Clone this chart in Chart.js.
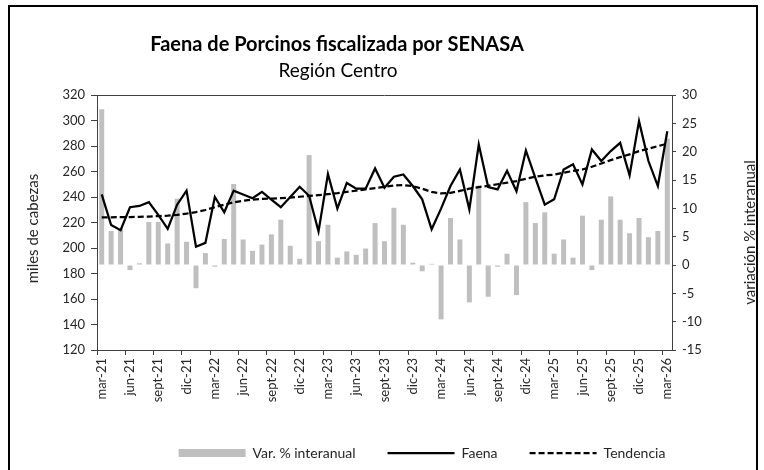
<!DOCTYPE html>
<html><head><meta charset="utf-8">
<script src="https://cdn.jsdelivr.net/npm/chart.js@4.4.1/dist/chart.umd.min.js"></script>
<style>html,body{margin:0;padding:0;background:#fff}canvas{display:block}</style>
</head><body>
<canvas id="c" width="764" height="470"></canvas>
<script>
const categories = ['mar-21','abr-21','may-21','jun-21','jul-21','ago-21','sept-21','oct-21','nov-21','dic-21',
  'ene-22','feb-22','mar-22','abr-22','may-22','jun-22','jul-22','ago-22','sept-22','oct-22','nov-22','dic-22',
  'ene-23','feb-23','mar-23','abr-23','may-23','jun-23','jul-23','ago-23','sept-23','oct-23','nov-23','dic-23',
  'ene-24','feb-24','mar-24','abr-24','may-24','jun-24','jul-24','ago-24','sept-24','oct-24','nov-24','dic-24',
  'ene-25','feb-25','mar-25','abr-25','may-25','jun-25','jul-25','ago-25','sept-25','oct-25','nov-25','dic-25',
  'ene-26','feb-26','mar-26'];
const varInteranual = [27.5, 6.0, 6.4, -0.9, 0.3, 7.6, 7.6, 3.8, 11.7, 4.1,
  -4.1, 2.1, -0.3, 4.6, 14.3, 4.5, 2.5, 3.6, 5.4, 8.0, 3.4, 1.1,
  19.4, 4.2, 7.1, 1.3, 2.4, 1.8, 2.9, 7.4, 4.2, 10.1, 7.1, 0.4,
  -1.1, 0.2, -9.6, 8.3, 4.5, -6.6, 14.0, -5.6, -0.3, 2.0, -5.3, 11.1,
  7.4, 9.3, 2.0, 4.5, 1.3, 8.7, -0.9, 8.0, 12.1, 8.0, 5.6, 8.3,
  4.9, 6.0, 22.3];
const faena = [242, 218, 214, 232, 233, 236, 226, 215, 234, 245,
  201, 204, 240, 228, 245, 242, 239, 244, 238, 232, 240, 248,
  241, 213, 258, 231, 251, 246.5, 246.5, 262.4, 247.3, 255.9, 257.7, 248.6,
  238.2, 214.7, 230.9, 248.6, 261.6, 230.3, 281.2, 247.8, 246, 260.5, 244.5, 276.5,
  255, 234, 238.2, 261.6, 265.6, 249.9, 277.3, 268.2, 276, 282.5, 257, 299.5,
  268.2, 248.6, 291.6];
const tendencia = [224, 224.1, 224.2, 224.3, 224.5, 224.7, 225, 225.4, 226, 227,
  228.2, 229.8, 232, 234, 235.8, 237, 238, 238.5, 238.8, 239.1, 239.5, 240.2,
  240.8, 241.5, 242.2, 243, 244, 245, 246, 247, 248, 249, 249.3, 248.5,
  246.5, 244, 242.8, 243.2, 244.8, 246.5, 247.8, 248.8, 250, 251.2, 252.5, 254.3,
  255.9, 257, 257.5, 259.1, 260.4, 261.6, 263.7, 266.3, 268.9, 271.3, 273.4, 276,
  277.8, 279.9, 281.8];
const leftAxisRange = [120, 320, 20];   // min, max, step
const rightAxisRange = [-15, 30, 5];
const seriesNames = ['Var. % interanual', 'Faena', 'Tendencia'];
const titleText = 'Faena de Porcinos fiscalizada por SENASA';
const subtitleText = 'Región Centro';
const leftAxisTitle = 'miles de cabezas';
const rightAxisTitle = 'variación % interanual';

const FONT = 'Lato';
const AXIS = '#404040';
const TXT = '#262626';

const decor = {
  id: 'decor',
  afterLayout(chart) {
    const l = chart.legend;
    if (l) { l.left += 40; l.right += 40; }
  },
  afterDraw(chart) {
    const {ctx, chartArea: a} = chart;
    ctx.save();
    ctx.strokeStyle = AXIS; ctx.lineWidth = 1;
    ctx.beginPath(); ctx.moveTo(a.left, a.top + 0.5); ctx.lineTo(a.right, a.top + 0.5); ctx.stroke();
    ctx.fillStyle = '#000'; ctx.textAlign = 'center'; ctx.textBaseline = 'middle';
    ctx.font = 'bold 20px ' + FONT; ctx.fillText(titleText, 337, 45);
    ctx.font = '19px ' + FONT; ctx.fillText(subtitleText, 338, 71);
    ctx.fillStyle = TXT; ctx.font = '15px ' + FONT;
    const midY = (a.top + a.bottom) / 2;
    ctx.save(); ctx.translate(33, midY + 6); ctx.rotate(-Math.PI / 2); ctx.fillText(leftAxisTitle, 0, 0); ctx.restore();
    ctx.save(); ctx.translate(750, midY + 10); ctx.rotate(-Math.PI / 2); ctx.fillText(rightAxisTitle, 0, 0); ctx.restore();
    ctx.strokeStyle = '#000'; ctx.lineWidth = 2;
    ctx.strokeRect(9, 6, 748, 490);
    ctx.restore();
  }
};

new Chart(document.getElementById('c'), {
  type: 'bar',
  data: {
    labels: categories,
    datasets: [
      { type: 'bar', label: seriesNames[0], data: varInteranual, yAxisID: 'y1', backgroundColor: '#bfbfbf',
        borderWidth: 0, categoryPercentage: 1, barPercentage: 0.53, order: 3 },
      { type: 'line', label: seriesNames[1], data: faena, yAxisID: 'y', borderColor: '#000', borderWidth: 2.25,
        pointRadius: 0, tension: 0, fill: false, order: 1 },
      { type: 'line', label: seriesNames[2], data: tendencia, yAxisID: 'y', borderColor: '#000', borderWidth: 2.25,
        borderDash: [6, 3], pointRadius: 0, tension: 0, fill: false, order: 2 }
    ]
  },
  options: {
    responsive: false, animation: false, devicePixelRatio: 1,
    layout: { padding: { left: 0, right: 0, top: 95, bottom: 0 } },
    plugins: {
      tooltip: { enabled: false },
      legend: {
        position: 'bottom', align: 'center',
        labels: {
          usePointStyle: true, pointStyleWidth: 67, boxHeight: 8, padding: 32, color: TXT,
          font: { family: FONT, size: 14 },
          sort: (a, b) => a.datasetIndex - b.datasetIndex,
          generateLabels(chart) {
            const items = Chart.defaults.plugins.legend.labels.generateLabels(chart);
            items.forEach(it => {
              const ds = chart.data.datasets[it.datasetIndex];
              if (ds.type === 'line') {
                it.pointStyle = 'line'; it.lineWidth = 2.25; it.strokeStyle = '#000'; it.lineDash = ds.borderDash || [];
              } else {
                it.pointStyle = 'rect'; it.lineWidth = 0; it.fillStyle = '#bfbfbf';
              }
            });
            return items;
          }
        }
      }
    },
    scales: {
      x: {
        offset: true,
        grid: { offset: true, drawOnChartArea: false, tickLength: 5, lineWidth: 1,
          color: c => (c.index !== undefined && c.index % 3 === 0) ? AXIS : 'rgba(0,0,0,0)' },
        border: { color: AXIS, width: 1 },
        ticks: { autoSkip: false, minRotation: 90, maxRotation: 90, padding: 3, color: TXT,
          font: { family: FONT, size: 13 }, callback: (v, i) => (i % 3 === 0 ? categories[i] : '') },
        afterFit: s => { s.height = 64; }
      },
      y: {
        position: 'left', min: leftAxisRange[0], max: leftAxisRange[1],
        ticks: { stepSize: leftAxisRange[2], padding: 6, color: TXT, font: { family: FONT, size: 13 } },
        grid: { drawOnChartArea: false, tickLength: 6, color: AXIS },
        border: { color: AXIS, width: 1 },
        afterFit: s => { s.width = 97; }
      },
      y1: {
        position: 'right', min: rightAxisRange[0], max: rightAxisRange[1],
        ticks: { stepSize: rightAxisRange[2], padding: 6, color: TXT, font: { family: FONT, size: 13 } },
        grid: { drawOnChartArea: false, tickLength: 4, color: AXIS },
        border: { color: AXIS, width: 1 },
        afterFit: s => { s.width = 92; }
      }
    }
  },
  plugins: [decor]
});
</script>
</body></html>
